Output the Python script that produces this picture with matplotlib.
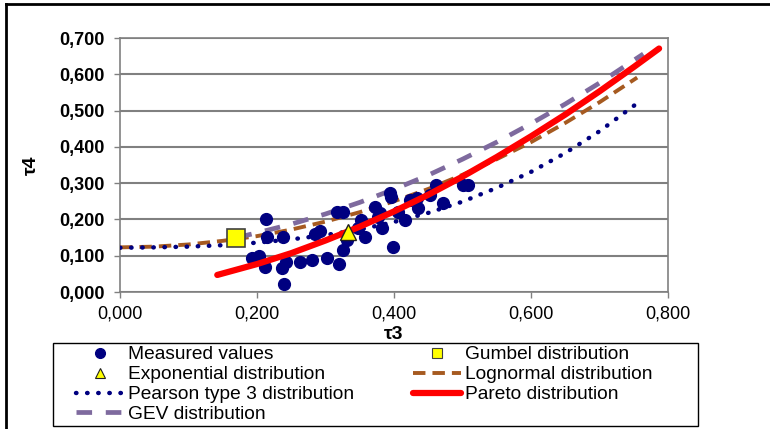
import matplotlib
matplotlib.use("Agg")
import matplotlib.pyplot as plt
from matplotlib.lines import Line2D
from matplotlib.patches import Rectangle
from matplotlib.ticker import FuncFormatter

plt.rcParams["font.family"] = ["Liberation Sans", "DejaVu Sans"]

# measured L-moment ratios
meas_t3 = [0.192, 0.203, 0.211, 0.213, 0.214, 0.237, 0.238, 0.240, 0.243, 0.263,
           0.280, 0.285, 0.292, 0.302, 0.317, 0.320, 0.326, 0.326, 0.331, 0.348,
           0.352, 0.358, 0.372, 0.377, 0.380, 0.383, 0.394, 0.396, 0.399, 0.406,
           0.416, 0.423, 0.433, 0.435, 0.453, 0.461, 0.472, 0.501, 0.508]
meas_t4 = [0.094, 0.100, 0.070, 0.200, 0.152, 0.067, 0.152, 0.021, 0.082, 0.083,
           0.088, 0.160, 0.168, 0.093, 0.220, 0.077, 0.220, 0.116, 0.143, 0.176,
           0.198, 0.152, 0.234, 0.207, 0.217, 0.176, 0.272, 0.262, 0.124, 0.220,
           0.198, 0.253, 0.259, 0.231, 0.267, 0.295, 0.245, 0.295, 0.295]

gumbel_t3, gumbel_t4 = [0.170], [0.150]
expo_t3, expo_t4 = [0.333], [0.165]

logn_t3 = [0.0, 0.05, 0.10, 0.15, 0.20, 0.25, 0.30, 0.35, 0.40, 0.45, 0.50,
           0.55, 0.60, 0.65, 0.70, 0.755]
logn_t4 = [0.123, 0.125, 0.131, 0.141, 0.154, 0.172, 0.194, 0.220, 0.250, 0.284,
           0.323, 0.366, 0.413, 0.466, 0.523, 0.591]

pe3_t3 = [0.0, 0.05, 0.10, 0.15, 0.20, 0.25, 0.30, 0.35, 0.40, 0.45, 0.50,
          0.55, 0.60, 0.65, 0.70, 0.76]
pe3_t4 = [0.122, 0.123, 0.125, 0.129, 0.136, 0.145, 0.157, 0.172, 0.193, 0.218,
          0.249, 0.287, 0.331, 0.383, 0.443, 0.527]

pareto_t3 = [0.142, 0.20, 0.25, 0.30, 0.35, 0.40, 0.45, 0.50, 0.55, 0.60, 0.65,
             0.70, 0.75, 0.787]
pareto_t4 = [0.047, 0.077, 0.107, 0.142, 0.180, 0.222, 0.268, 0.318, 0.372, 0.429,
             0.489, 0.553, 0.620, 0.671]

gev_t3 = [0.17, 0.20, 0.25, 0.30, 0.35, 0.40, 0.45, 0.50, 0.55, 0.60, 0.65,
          0.70, 0.764]
gev_t4 = [0.150, 0.163, 0.187, 0.215, 0.247, 0.283, 0.322, 0.366, 0.413, 0.464,
          0.518, 0.576, 0.656]

W, H = 770, 429
fig = plt.figure(figsize=(W / 100, H / 100), dpi=100)
ax = fig.add_axes([120 / W, 1 - 292 / H, 548 / W, 254 / H])

grey = "#808080"
navy = "#000080"
brown = "#A65A20"
purple = "#7E6A9E"

logn_style = dict(color=brown, lw=2.8, dashes=(3.2, 1.8))
pe3_style = dict(color=navy, lw=3.2, dashes=(0.1, 2.4), dash_capstyle="round")
gev_style = dict(color=purple, lw=3.4, dashes=(3.3, 2.9))
pareto_style = dict(color="#FF0000", lw=4.5, solid_capstyle="round")

ax.plot(logn_t3, logn_t4, zorder=3, **logn_style)
ax.plot(pe3_t3, pe3_t4, zorder=3, **pe3_style)
ax.plot(gev_t3, gev_t4, zorder=3, **gev_style)
ax.plot(meas_t3, meas_t4, "o", color=navy, ms=8.5, mec=navy, zorder=4)
ax.plot(pareto_t3, pareto_t4, zorder=5, **pareto_style)
ax.plot(gumbel_t3, gumbel_t4, "s", color="#FFFF00", mec="#404040", mew=1.2, ms=13, zorder=6)
ax.plot(expo_t3, expo_t4, "^", color="#FFFF00", mec="#202020", mew=1, ms=11, zorder=6)

ax.set_xlim(0, 0.8)
ax.set_ylim(0, 0.7)
ax.set_xticks([0, 0.2, 0.4, 0.6, 0.8])
ax.set_yticks([0, 0.1, 0.2, 0.3, 0.4, 0.5, 0.6, 0.7])
fmt = FuncFormatter(lambda v, p: f"{v:.3f}".replace(".", ","))
ax.xaxis.set_major_formatter(fmt)
ax.yaxis.set_major_formatter(fmt)
ax.grid(axis="y", color=grey, lw=1.5, zorder=0)
for s in ax.spines.values():
    s.set_color(grey)
    s.set_linewidth(1.2)
ax.tick_params(colors="black", labelsize=13, length=4, color=grey, width=1)
ax.tick_params(axis="x", pad=6)
ax.tick_params(axis="y", pad=7)
for lab in ax.get_yticklabels():
    lab.set_fontweight("bold")
ax.set_xlabel("τ3", fontsize=14, fontweight="bold", labelpad=2)
ax.set_ylabel("τ4", fontsize=14, fontweight="bold", labelpad=14)

# legend proxies, column-first order
handles = [
    Line2D([], [], ls="none", marker="o", color=navy, ms=7),
    Line2D([], [], ls="none", marker="^", color="#FFFF00", mec="#202020", mew=0.8, ms=7),
    Line2D([], [], **pe3_style),
    Line2D([], [], **gev_style),
    Line2D([], [], ls="none", marker="s", color="#FFFF00", mec="#404040", mew=0.8, ms=7.5),
    Line2D([], [], **logn_style),
    Line2D([], [], **pareto_style),
]
labels = ["Measured values", "Exponential distribution", "Pearson type 3 distribution",
          "GEV distribution", "Gumbel distribution", "Lognormal distribution",
          "Pareto distribution"]
fig.legend(handles, labels, loc="upper left",
           bbox_to_anchor=(76 / W, 1 - 346 / H), ncol=2, frameon=False,
           fontsize=13.8, handlelength=2.5, handletextpad=0.2, labelspacing=0.13,
           columnspacing=3.1, borderpad=0, borderaxespad=0, numpoints=1)
fig.add_artist(Rectangle((53 / W, 1 - 426 / H), 645 / W, 83 / H, transform=fig.transFigure,
                         fill=False, ec="black", lw=1))

# outer frame (left and top)
fig.add_artist(Line2D([6 / W, 6 / W], [0, 1 - 4 / H], color="black", lw=2,
                      transform=fig.transFigure))
fig.add_artist(Line2D([6 / W, 1], [1 - 4 / H, 1 - 4 / H], color="black", lw=2,
                      transform=fig.transFigure))

fig.savefig("out.png", dpi=100)
